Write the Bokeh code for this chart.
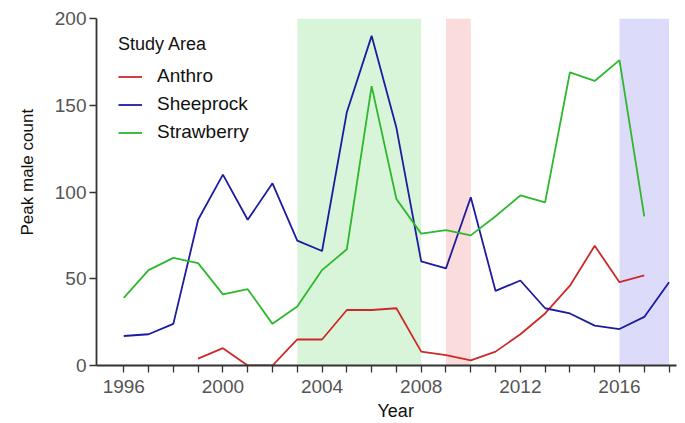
from bokeh.plotting import figure
from bokeh.models import FixedTicker, Legend, LegendItem, BoxAnnotation, Range1d, Title
from bokeh.embed import file_html
from bokeh.resources import INLINE

years = list(range(1996, 2019))
nan = float("nan")
anthro = [nan, nan, nan, 4, 10, 0, 0, 15, 15, 32, 32, 33, 8, 6, 3, 8, 18, 30, 46, 69, 48, 52, nan]
sheeprock = [17, 18, 24, 84, 110, 84, 105, 72, 66, 146, 190, 137, 60, 56, 97, 43, 49, 33, 30, 23, 21, 28, 48]
strawberry = [39, 55, 62, 59, 41, 44, 24, 34, 55, 67, 161, 96, 76, 78, 75, 86, 98, 94, 169, 164, 176, 86, nan]

shade_starts = [2003, 2009, 2016]
shade_ends = [2008, 2010, 2018]
shade_colors = ["#d9f5d9", "#fbdcdc", "#dcdcfa"]

series_names = ["Anthro", "Sheeprock", "Strawberry"]
series_colors = ["#cc2a2a", "#1c1ca0", "#2db82d"]

x_ticks = years
x_labels = {y: (str(y) if (y - 1996) % 4 == 0 else "") for y in years}
y_ticks = [0, 50, 100, 150, 200]
x_title = "Year"
y_title = "Peak male count"

FONT = "Liberation Sans"

p = figure(width=685, height=423, output_backend="svg", toolbar_location=None,
           x_range=Range1d(1994.9, 2018.3), y_range=Range1d(0, 200),
           min_border_left=95, min_border_top=18, min_border_bottom=58, min_border_right=9)

for s, e, c in zip(shade_starts, shade_ends, shade_colors):
    p.add_layout(BoxAnnotation(left=s, right=e, fill_color=c, fill_alpha=1.0, line_alpha=0, level="underlay"))

renderers = []
for vals, c in zip([anthro, sheeprock, strawberry], series_colors):
    r = p.line(years, vals, line_color=c, line_width=1.8)
    renderers.append(r)

p.grid.visible = False
p.outline_line_color = None
p.background_fill_color = "white"
p.border_fill_color = "white"

for ax in (p.xaxis[0], p.yaxis[0]):
    ax.axis_line_color = "#333333"
    ax.axis_line_width = 1.8
    ax.major_tick_line_color = "#333333"
    ax.major_tick_line_width = 1.3
    ax.major_tick_out = 7
    ax.major_tick_in = 0
    ax.minor_tick_line_color = None
    ax.major_label_text_font = FONT
    ax.major_label_text_font_size = "19px"
    ax.major_label_text_color = "#555555"

p.xaxis[0].ticker = FixedTicker(ticks=x_ticks)
p.xaxis[0].major_label_overrides = x_labels
p.xaxis[0].major_label_standoff = 7
p.yaxis[0].ticker = FixedTicker(ticks=y_ticks)
p.yaxis[0].major_label_standoff = 3

p.add_layout(Title(text=x_title, align="left", offset=281, standoff=6,
                   text_font=FONT, text_font_size="18px", text_font_style="normal",
                   text_color="#111111"), "below")
p.add_layout(Title(text=y_title, align="left", offset=130, standoff=30,
                   text_font=FONT, text_font_size="17px", text_font_style="normal",
                   text_color="#111111"), "left")

legend = Legend(items=[LegendItem(label=n, renderers=[r]) for n, r in zip(series_names, renderers)],
                location=(22, 222), title="Study Area",
                title_text_font=FONT, title_text_font_size="18px", title_text_font_style="normal",
                title_text_color="#111111", title_standoff=10,
                label_text_font=FONT, label_text_font_size="19px", label_text_color="#111111",
                background_fill_alpha=0, border_line_color=None,
                glyph_width=24, glyph_height=21, label_standoff=15, spacing=6, padding=8)
p.add_layout(legend)

open("out.html", "w").write(file_html(p, INLINE))
